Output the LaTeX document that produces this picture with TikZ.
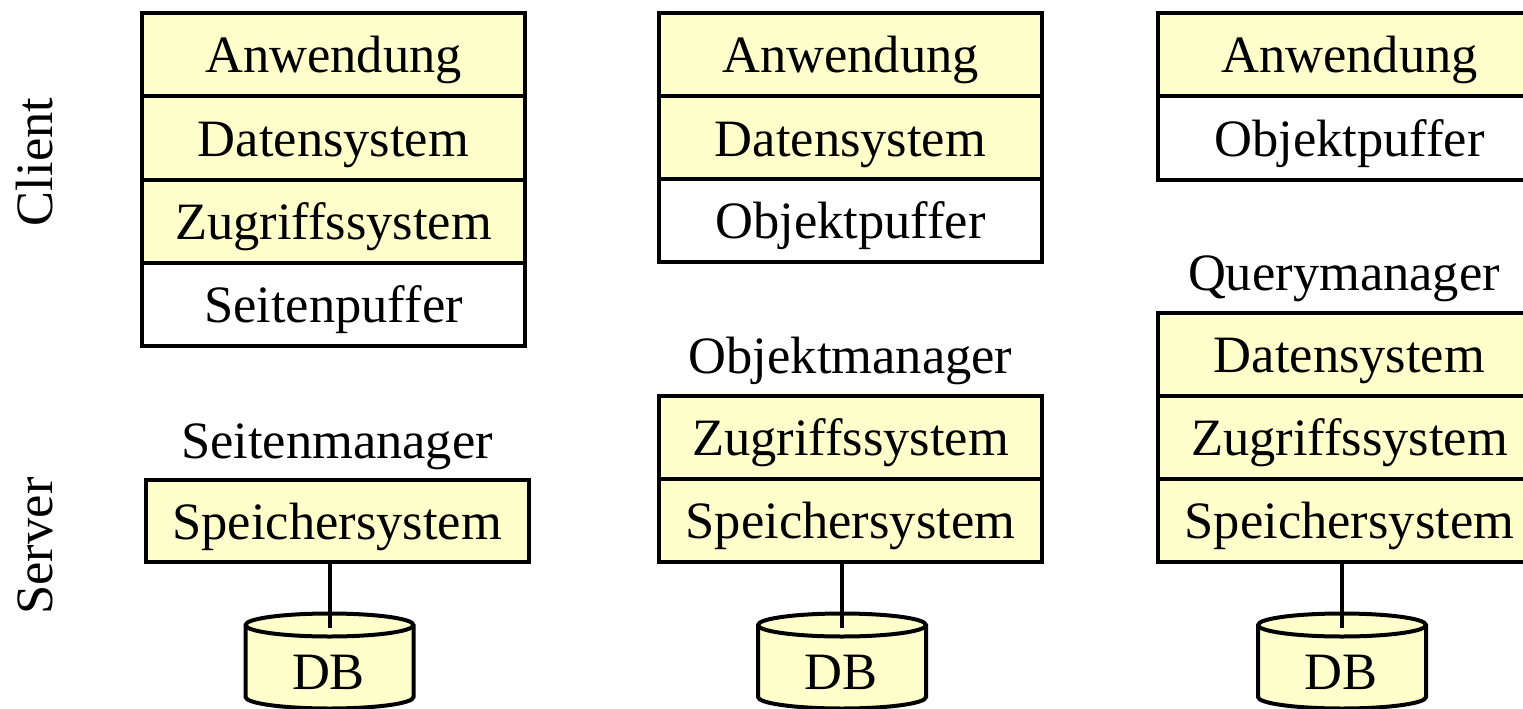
\documentclass[tikz,border=0pt]{standalone}
\usepackage{fontspec}
\setmainfont{Liberation Serif}
\definecolor{boxyellow}{HTML}{FFFFCC}
\begin{document}
\begin{tikzpicture}[x=1pt,y=1pt,
  font=\fontsize{52.5}{60}\selectfont,
  layer/.style={draw, line width=4pt, minimum width=383pt, minimum height=83.3pt,
    inner sep=0pt, text height=36pt, text depth=0pt, fill=boxyellow},
  plainlayer/.style={layer, fill=white},
  caption/.style={anchor=base, inner sep=0pt},
  side/.style={anchor=base, rotate=90, inner sep=0pt},
  cyl/.style={draw, line width=4pt, fill=boxyellow},
  link/.style={line width=4pt}]
\path[use as bounding box] (0,0) rectangle (1523,-709);
\clip (0,0) rectangle (1523,-709);

% side labels
\node[side] (client) at (52,-162) {Client};
\node[side] (server) at (52,-546) {Server};

% column 1
\node[layer] (a1) at (333.5,-54.75) {Anwendung};
\node[layer] (d1) at (333.5,-138.0) {Datensystem};
\node[layer] (z1) at (333.5,-221.3) {Zugriffssystem};
\node[plainlayer] (p1) at (333.5,-304.6) {Seitenpuffer};
\node[caption] (m1) at (337,-458) {Seitenmanager};
\node[layer, minimum width=383.5pt, minimum height=82pt] (s1) at (337.25,-521) {Speichersystem};

% column 2
\node[layer] (a2) at (850.5,-54.75) {Anwendung};
\node[layer] (d2) at (850.5,-138.0) {Datensystem};
\node[plainlayer] (o2) at (850.5,-220.75) {Objektpuffer};
\node[caption] (m2) at (850.5,-373) {Objektmanager};
\node[layer] (z2) at (850.5,-437.6) {Zugriffssystem};
\node[layer] (s2) at (850.5,-520.5) {Speichersystem};

% column 3
\node[layer] (a3) at (1349.5,-54.75) {Anwendung};
\node[plainlayer] (o3) at (1349.5,-138.0) {Objektpuffer};
\node[caption] (m3) at (1344,-290) {Querymanager};
\node[layer] (d3) at (1349.5,-354.3) {Datensystem};
\node[layer] (z3) at (1349.5,-437.6) {Zugriffssystem};
\node[layer] (s3) at (1349.5,-520.5) {Speichersystem};

% databases
\foreach \cx/\n/\s in {329.5/1/s1, 842/2/s2, 1342/3/s3}{
  \draw[cyl] (\cx-84,-625) -- (\cx-84,-697)
     arc[start angle=180,end angle=360,x radius=84pt,y radius=11.5pt]
     -- (\cx+84,-625)
     arc[start angle=0,end angle=180,x radius=84pt,y radius=11.5pt] -- cycle;
  \draw[line width=4pt] (\cx-84,-625)
     arc[start angle=180,end angle=360,x radius=84pt,y radius=11.5pt];
  \node[caption] (db\n) at (\cx-1,-689) {DB};
  \coordinate (dbtop\n) at (\cx,-628);
  \draw[link] (dbtop\n |- \s.south) -- (dbtop\n);
}
\end{tikzpicture}
\end{document}
